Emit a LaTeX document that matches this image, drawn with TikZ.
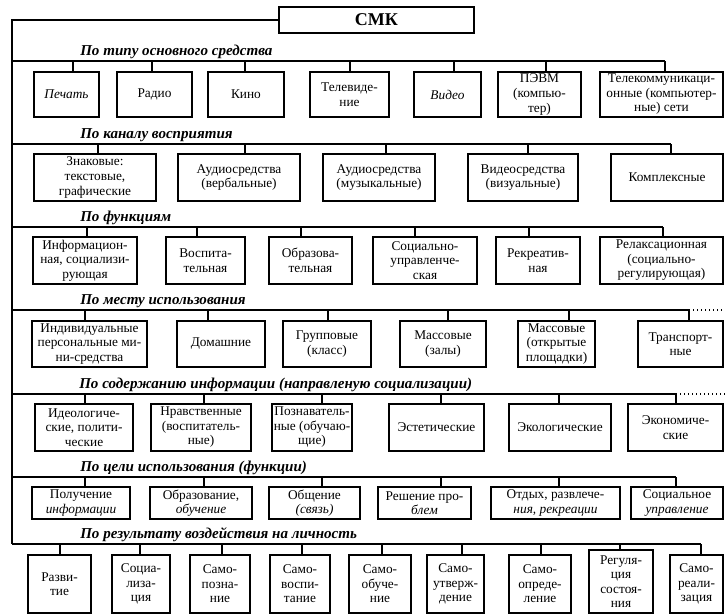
\documentclass[tikz,border=0pt]{standalone}
\usepackage{fontspec}
\setmainfont{Liberation Serif}
\usetikzlibrary{calc}
% box: name, left, right, top, bottom (px), text
\newcommand\bx[6]{\node[box, minimum width={(#3-#2)*0.75pt}, minimum height={(#5-#4)*0.75pt}] (#1) at ({(#2+#3)/2},{(#4+#5)/2}) {#6};}
% stem from a box up to its row bus, at a given x
\newcommand\stm[3]{\coordinate (sx) at (#2,0); \draw[ln] (#1.north -| sx) -- (#3 -| sx);}
\begin{document}
\begin{tikzpicture}[x=0.75pt,y=-0.75pt,
  box/.style={draw, line width=1.2pt, align=center, inner sep=0pt, font=\fontsize{10}{10.9}\selectfont},
  ln/.style={line width=1pt},
  lbl/.style={anchor=base west, inner sep=0pt, font=\fontsize{11.3}{12}\selectfont\bfseries\itshape}]
\fill[white] (0,0) rectangle (725,615);
\useasboundingbox (0,0) rectangle (725,615);

% root
\node[draw, line width=2.2pt, minimum width={195*0.75pt}, minimum height={26*0.75pt},
      font=\fontsize{13.5}{14}\selectfont\bfseries] (smk) at (376.5,20) {СМК};

% trunk and row buses
\coordinate (t0) at (12,20);
\coordinate (r1) at (12,61);  \coordinate (r1e) at (665,61);
\coordinate (r2) at (12,144); \coordinate (r2e) at (671,144);
\coordinate (r3) at (12,227); \coordinate (r3e) at (663,227);
\coordinate (r4) at (12,310); \coordinate (r4e) at (689,310); \coordinate (r4d) at (725,310);
\coordinate (r5) at (12,394); \coordinate (r5e) at (676,394); \coordinate (r5d) at (725,394);
\coordinate (r6) at (12,477); \coordinate (r6e) at (676,477);
\coordinate (r7) at (12,544); \coordinate (r7e) at (701,544);
\draw[ln] (smk.west) -- (t0) -- (r7);
\foreach \r in {1,...,7} \draw[ln] (r\r) -- (r\r e);
\draw[ln, dotted] (r4e) -- (r4d);
\draw[ln, dotted] (r5e) -- (r5d);

% group labels
\node[lbl] (l1) at (80,55)  {По типу основного средства};
\node[lbl] (l2) at (80,138) {По каналу восприятия};
\node[lbl] (l3) at (80,221) {По функциям};
\node[lbl] (l4) at (80,304) {По месту использования};
\node[lbl] (l5) at (79,388) {По содержанию информации (направленую социализации)};
\node[lbl] (l6) at (80,471) {По цели использования (функции)};
\node[lbl] (l7) at (80,538) {По результату воздействия на личность};

% row 1
\bx{b11}{34}{99}{72}{117}{\textit{Печать}}
\bx{b12}{117}{192}{72}{117}{Радио}
\bx{b13}{208}{284}{72}{117}{Кино}
\bx{b14}{310}{389}{72}{117}{Телевиде-\\ние}
\bx{b15}{414}{481}{72}{117}{\textit{Видео}}
\bx{b16}{498}{581}{72}{117}{ПЭВМ\\(компью-\\тер)}
\bx{b17}{600}{723}{72}{117}{Телекоммуникаци-\\онные (компьютер-\\ные) сети}
\stm{b11}{73}{r1} \stm{b12}{152}{r1} \stm{b13}{245}{r1} \stm{b14}{350}{r1}
\stm{b15}{454}{r1} \stm{b16}{546}{r1} \stm{b17}{665}{r1}

% row 2
\bx{b21}{34}{156}{154}{201}{Знаковые:\\текстовые,\\графические}
\bx{b22}{178}{300}{154}{201}{Аудиосредства\\(вербальные)}
\bx{b23}{323}{435}{154}{201}{Аудиосредства\\(музыкальные)}
\bx{b24}{468}{578}{154}{201}{Видеосредства\\(визуальные)}
\bx{b25}{611}{723}{154}{201}{Комплексные}
\stm{b21}{98}{r2} \stm{b22}{245}{r2} \stm{b23}{386}{r2} \stm{b24}{528}{r2} \stm{b25}{671}{r2}

% row 3
\bx{b31}{33}{137}{237}{284}{Информацион-\\ная, социализи-\\рующая}
\bx{b32}{166}{245}{237}{284}{Воспита-\\тельная}
\bx{b33}{269}{352}{237}{284}{Образова-\\тельная}
\bx{b34}{373}{477}{237}{284}{Социально-\\управленче-\\ская}
\bx{b35}{496}{580}{237}{284}{Рекреатив-\\ная}
\bx{b36}{600}{723}{237}{284}{Релаксационная\\(социально-\\регулирующая)}
\stm{b31}{87}{r3} \stm{b32}{197}{r3} \stm{b33}{301}{r3} \stm{b34}{415}{r3}
\stm{b35}{529}{r3} \stm{b36}{663}{r3}

% row 4
\bx{b41}{32}{147}{321}{367}{Индивидуальные\\персональные ми-\\ни-средства}
\bx{b42}{177}{265}{321}{367}{Домашние}
\bx{b43}{283}{371}{321}{367}{Групповые\\(класс)}
\bx{b44}{400}{486}{321}{367}{Массовые\\(залы)}
\bx{b45}{518}{595}{321}{367}{Массовые\\(открытые\\площадки)}
\bx{b46}{638}{723}{321}{367}{Транспорт-\\ные}
\stm{b41}{85}{r4} \stm{b42}{208}{r4} \stm{b43}{328}{r4} \stm{b44}{448}{r4}
\stm{b45}{569}{r4} \stm{b46}{689}{r4}

% row 5
\bx{b51}{35}{133}{404}{451}{Идеологиче-\\ские, полити-\\ческие}
\bx{b52}{151}{251}{404}{451}{Нравственные\\(воспитатель-\\ные)}
\bx{b53}{272}{352}{404}{451}{Познаватель-\\ные (обучаю-\\щие)}
\bx{b54}{389}{484}{404}{451}{Эстетические}
\bx{b55}{509}{611}{404}{451}{Экологические}
\bx{b56}{628}{723}{404}{451}{Экономиче-\\ские}
\stm{b51}{85}{r5} \stm{b52}{204}{r5} \stm{b53}{322}{r5} \stm{b54}{441}{r5}
\stm{b55}{559}{r5} \stm{b56}{676}{r5}

% row 6
\bx{b61}{32}{130}{487}{519}{Получение\\\textit{информации}}
\bx{b62}{150}{252}{487}{519}{Образование,\\\textit{обучение}}
\bx{b63}{269}{360}{487}{519}{Общение\\\textit{(связь)}}
\bx{b64}{378}{471}{487}{519}{Решение про-\\\textit{блем}}
\bx{b65}{491}{620}{487}{519}{Отдых, развлече-\\\textit{ния, рекреации}}
\bx{b66}{631}{723}{487}{519}{Социальное\\\textit{управление}}
\stm{b61}{85}{r6} \stm{b62}{204}{r6} \stm{b63}{322}{r6} \stm{b64}{441}{r6}
\stm{b65}{559}{r6} \stm{b66}{676}{r6}

% row 7
\bx{b71}{28}{91}{555}{613}{Разви-\\тие}
\bx{b72}{112}{170}{555}{613}{Социа-\\лиза-\\ция}
\bx{b73}{190}{250}{555}{613}{Само-\\позна-\\ние}
\bx{b74}{270}{330}{555}{613}{Само-\\воспи-\\тание}
\bx{b75}{349}{411}{555}{613}{Само-\\обуче-\\ние}
\bx{b76}{427}{484}{555}{613}{Само-\\утверж-\\дение}
\bx{b77}{509}{571}{555}{613}{Само-\\опреде-\\ление}
\bx{b78}{589}{653}{550}{613}{Регуля-\\ция\\состоя-\\ния}
\bx{b79}{670}{723}{555}{613}{Само-\\реали-\\зация}
\stm{b71}{60}{r7} \stm{b72}{140}{r7} \stm{b73}{222}{r7} \stm{b74}{302}{r7}
\stm{b75}{382}{r7} \stm{b76}{462}{r7} \stm{b77}{541}{r7} \stm{b78}{620}{r7}
\stm{b79}{701}{r7}
\end{tikzpicture}
\end{document}
